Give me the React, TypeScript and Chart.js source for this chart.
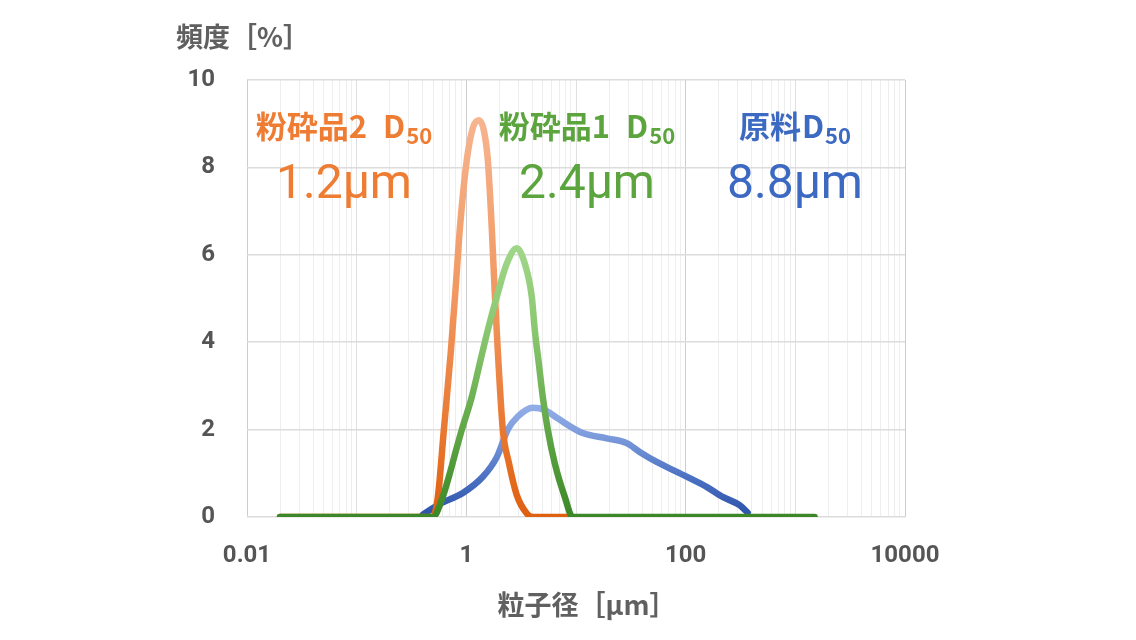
import React, { useEffect, useRef } from 'react';
import { Chart, registerables } from 'chart.js';

Chart.register(...registerables);

// ---- data (particle size [μm] vs frequency [%]) ----
const orangeSize = [0.02, 0.495, 0.55, 0.624, 0.723, 0.802, 0.873, 1.01, 1.146, 1.3, 1.444, 1.57, 1.707, 1.818, 1.936, 2.151, 2.439, 2.885, 3.559, 4.036, 8.77];
const orangeFreq = [0, 0, 0.46, 2.0, 3.8, 5.3, 6.6, 8.17, 8.9, 9.08, 8.85, 8.17, 6.6, 5.1, 3.8, 2.0, 1.25, 0.5, 0.08, 0, 0];

const greenSize = [0.02, 0.495, 0.598, 0.707, 0.8, 0.91, 1.122, 1.327, 1.57, 1.896, 2.339, 2.885, 3.412, 3.952, 4.208, 4.577, 4.977, 5.53, 6.4, 7.9, 9.34, 1498];
const greenFreq = [0, 0, 0.4, 1.0, 1.5, 2.0, 2.75, 3.52, 4.28, 5.04, 5.8, 6.15, 5.8, 5.04, 4.28, 3.52, 2.75, 2.0, 1.23, 0.46, 0, 0];

const blueSize = [0.4, 0.573, 0.929, 1.414, 1.896, 2.388, 2.946, 4.036, 5.19, 6.68, 11.52, 19.06, 29.0, 38.1, 54.4, 76.1, 108.7, 155.3, 217.3, 310.5, 367.2];
const blueFreq = [0.05, 0.3, 0.55, 0.92, 1.37, 2.0, 2.3, 2.5, 2.45, 2.27, 1.92, 1.8, 1.69, 1.49, 1.26, 1.08, 0.89, 0.69, 0.46, 0.27, 0.1];

const xLabeledTicks = [0.01, 1, 100, 10000];
const yTickStep = 2;
const seriesNames = ['粉砕品2', '粉砕品1', '原料'];
const d50Values = ['1.2μm', '2.4μm', '8.8μm'];

const TEXT_COLORS = ['#ee7c32', '#5ca43d', '#3c69c2'];
const LABEL_CENTERS = [344, 587, 795];

function isPow10(v: number) {
  const l = Math.log10(v);
  return Math.abs(l - Math.round(l)) < 1e-9;
}
function isLabeled(v: number) {
  return xLabeledTicks.some((t) => Math.abs(t - v) / t < 1e-9);
}

const textPlugin = {
  id: 'texts',
  afterDraw(chart: any) {
    const { ctx } = chart;
    ctx.save();
    ctx.fillStyle = '#606060';
    ctx.font = "bold 27px 'Noto Sans CJK JP'";
    ctx.textBaseline = 'middle';
    ctx.textAlign = 'left';
    ctx.fillText('頻度［%］', 176, 37);
    ctx.textAlign = 'center';
    ctx.fillText('粒子径［μm］', 587, 605);

    ctx.textBaseline = 'alphabetic';
    ctx.textAlign = 'left';
    const mainFont = "bold 31px 'Noto Sans CJK JP'";
    const subFont = "bold 22px 'Noto Sans CJK JP'";
    for (let i = 0; i < seriesNames.length; i++) {
      const name = seriesNames[i];
      const gap = /\d$/.test(name) ? 16 : 1;
      ctx.font = mainFont;
      const wName = ctx.measureText(name).width;
      const wD = ctx.measureText('D').width;
      ctx.font = subFont;
      const wSub = ctx.measureText('50').width;
      const total = wName + gap + wD + 1 + wSub;
      const x0 = LABEL_CENTERS[i] - total / 2;
      ctx.fillStyle = TEXT_COLORS[i];
      ctx.font = mainFont;
      ctx.fillText(name, x0, 138);
      ctx.fillText('D', x0 + wName + gap, 138);
      ctx.font = subFont;
      ctx.fillText('50', x0 + wName + gap + wD + 1, 144);

      ctx.font = "400 48px 'Roboto'";
      ctx.textAlign = 'center';
      ctx.fillText(d50Values[i], LABEL_CENTERS[i], 198);
      ctx.textAlign = 'left';
    }
    ctx.restore();
  },
};

export default function App() {
  const ref = useRef<HTMLCanvasElement>(null);

  useEffect(() => {
    const canvas = ref.current!;
    const mk = (xs: number[], ys: number[]) => xs.map((x, i) => ({ x, y: ys[i] }));
    const grad = (stops: [number, string][], peak: number) => (c: any) => {
      const chart = c.chart;
      if (!chart.chartArea) return stops[0][1];
      const y = chart.scales.y;
      const g = chart.ctx.createLinearGradient(0, y.getPixelForValue(0), 0, y.getPixelForValue(peak));
      stops.forEach(([o, col]) => g.addColorStop(o, col));
      return g;
    };
    const common = {
      borderWidth: 6.5,
      pointRadius: 0,
      pointHoverRadius: 0,
      cubicInterpolationMode: 'monotone' as const,
      borderCapStyle: 'round' as const,
      borderJoinStyle: 'round' as const,
      fill: false,
    };

    const chart = new Chart(canvas, {
      type: 'line',
      data: {
        datasets: [
          {
            label: seriesNames[2],
            data: mk(blueSize, blueFreq),
            borderColor: grad([[0, '#2a52a7'], [0.35, '#4a70c2'], [0.75, '#7d9cdc'], [1, '#91ade6']], 2.5),
            order: 3,
            ...common,
          },
          {
            label: seriesNames[0],
            data: mk(orangeSize, orangeFreq),
            borderColor: grad([[0, '#df5f10'], [0.2, '#e8762f'], [0.55, '#f2975f'], [1, '#f6b48f']], 9.1),
            order: 2,
            ...common,
          },
          {
            label: seriesNames[1],
            data: mk(greenSize, greenFreq),
            borderColor: grad([[0, '#3b8727'], [0.3, '#5ea545'], [0.7, '#8bc871'], [1, '#a0d689']], 6.2),
            order: 1,
            ...common,
          },
        ],
      },
      options: {
        responsive: false,
        animation: false,
        events: [],
        layout: { padding: { top: 80, right: 231, left: 0, bottom: 0 } },
        plugins: { legend: { display: false }, tooltip: { enabled: false } },
        scales: {
          x: {
            type: 'logarithmic',
            min: 0.01,
            max: 10000,
            afterBuildTicks: (scale: any) => {
              const t: { value: number }[] = [];
              for (let e = -2; e <= 3; e++) {
                for (let m = 1; m <= 9; m++) t.push({ value: m * Math.pow(10, e) });
              }
              t.push({ value: 10000 });
              scale.ticks = t;
            },
            afterFit: (s: any) => {
              s.height = 123;
            },
            ticks: {
              autoSkip: false,
              maxRotation: 0,
              padding: 25,
              color: '#555555',
              font: { family: "'Roboto'", size: 24, weight: 'bold' },
              callback: (v: any) => {
                const val = Number(v);
                const hit = xLabeledTicks.find((t) => Math.abs(t - val) / t < 1e-9);
                return hit !== undefined ? String(hit) : '';
              },
            },
            grid: {
              drawTicks: false,
              lineWidth: 1,
              color: (c: any) => {
                const v = c.tick ? c.tick.value : 0;
                if (isLabeled(v)) return '#cdcdcd';
                if (isPow10(v)) return '#e0e0e0';
                return '#eeeeee';
              },
            },
            border: { display: false },
          },
          y: {
            type: 'linear',
            min: 0,
            max: 10,
            afterFit: (s: any) => {
              s.width = 247;
            },
            ticks: {
              stepSize: yTickStep,
              padding: 32,
              color: '#555555',
              font: { family: "'Roboto'", size: 24, weight: 'bold' },
            },
            grid: { drawTicks: false, color: '#dcdcdc', lineWidth: 1.5 },
            border: { display: false },
          },
        },
      },
      plugins: [textPlugin],
    } as any);

    return () => chart.destroy();
  }, []);

  return (
    <div style={{ position: 'fixed', left: 0, top: 0, width: 1136, height: 640, background: '#ffffff' }}>
      <canvas ref={ref} width={1136} height={640} style={{ display: 'block', width: 1136, height: 640 }} />
    </div>
  );
}
